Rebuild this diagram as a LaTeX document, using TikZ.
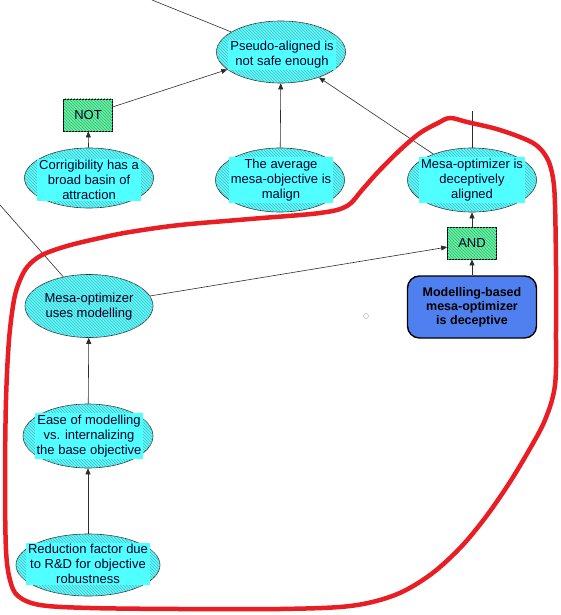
\documentclass[tikz,border=0pt]{standalone}
\usepackage{fontspec}
\setmainfont{Liberation Sans}
\usetikzlibrary{shapes.geometric,patterns,arrows.meta}
\definecolor{ecyan}{RGB}{90,252,252}
\definecolor{tcyan}{RGB}{80,255,255}
\definecolor{hatchc}{RGB}{80,185,195}
\definecolor{egreen}{RGB}{95,248,165}
\definecolor{hatchg}{RGB}{70,170,110}
\definecolor{dblue}{RGB}{80,128,240}
\definecolor{txt}{RGB}{0,0,40}
\definecolor{edgec}{RGB}{45,45,45}
\definecolor{redpen}{RGB}{232,30,36}
\definecolor{dotc}{RGB}{190,190,215}
\begin{document}
\begin{tikzpicture}[x=1pt,y=-1pt,
  ell/.style={ellipse, draw=edgec, line width=0.6pt, fill=ecyan, inner sep=0pt,
    postaction={pattern=north west lines, pattern color=hatchc}},
  tbox/.style={fill=tcyan, inner xsep=2pt, inner ysep=1.5pt, align=center,
    text=txt, font=\fontsize{13}{15}\selectfont},
  tplain/.style={inner sep=0pt, align=center, text=txt, font=\fontsize{13}{15}\selectfont},
  gate/.style={rectangle, draw=black, line width=0.7pt, fill=egreen,
    minimum width=49pt, minimum height=32pt, inner sep=0pt, text=txt,
    font=\fontsize{13}{15}\selectfont,
    postaction={pattern=north west lines, pattern color=hatchg}},
  leaf/.style={rectangle, rounded corners=12pt, draw=black, line width=1.4pt, fill=dblue,
    minimum width=129pt, minimum height=62pt, inner sep=0pt, align=center,
    font=\fontsize{12.5}{14}\selectfont\bfseries},
  conn/.style={draw=edgec, line width=0.6pt},
  arr/.style={conn, -{Triangle[length=6pt,width=5pt]}}
]
\useasboundingbox (0,0) rectangle (561,615);

% ellipses
\node[ell, minimum width=129pt, minimum height=62pt] (pa) at (281,52) {};
\node[ell, minimum width=129pt, minimum height=60pt] (cor) at (89,178) {};
\node[ell, minimum width=129pt, minimum height=64pt] (avg) at (280,180) {};
\node[ell, minimum width=129pt, minimum height=64pt] (mda) at (472,180) {};
\node[ell, minimum width=128pt, minimum height=63pt] (mum) at (89,306) {};
\node[ell, minimum width=130pt, minimum height=64pt] (ease) at (88,436) {};
\node[ell, minimum width=144pt, minimum height=62pt] (red) at (88,565) {};

% texts
\node[tbox] (tpa) at (282,55) {Pseudo-aligned is\\not safe enough};
\node[tbox] (tcor) at (89,180) {Corrigibility has a\\broad basin of\\attraction};
\node[tbox] (tavg) at (281,180) {The average\\mesa-objective is\\malign};
\node[tbox] (tmda) at (472,180) {Mesa-optimizer is\\deceptively\\aligned};
\node[tplain] (tmum) at (89,307) {Mesa-optimizer\\uses modelling};
\node[tbox] (tease) at (89,436) {Ease of modelling\\vs. internalizing\\the base objective};
\node[tbox] (tred) at (88,564) {Reduction factor due\\to R\&D for objective\\robustness};

% gates and leaf
\node[gate] (not) at (88,115) {NOT};
\node[gate] (and) at (472,243) {AND};
\node[leaf] (mbd) at (472,307) {Modelling-based\\mesa-optimizer\\is deceptive};

% free ends
\coordinate (ftop) at (152,0);
\coordinate (fleft) at (0,205);
\coordinate (fmda) at (472,111);

% connectors
\draw[conn] (ftop) -- (pa);
\draw[conn] (fleft) -- (mum);
\draw[conn] (fmda) -- (mda);
\draw[arr] (not) -- (pa);
\draw[arr] (cor) -- (not);
\draw[arr] (avg) -- (pa);
\draw[arr] (mda) -- (pa);
\draw[arr] (and) -- (mda);
\draw[arr] (mbd) -- (and);
\draw[arr] (mum) -- (and);
\draw[arr] (ease) -- (mum);
\draw[arr] (red) -- (ease);

% small circle
\node[circle, draw=dotc, line width=0.6pt, minimum size=5pt, inner sep=0pt] (dot) at (366,316) {};

% red freehand loop
\draw[redpen, line width=4.5pt, line cap=round, line join=round]
  plot[smooth cycle, tension=0.55] coordinates {
  (450,118) (467,122) (500,130) (533,143) (547,158) (553,178) (555,205)
  (556,267) (556,330) (555,385) (545,420) (528,452) (508,485) (485,518)
  (460,548) (430,575) (395,595) (350,606) (280,609) (180,609) (90,608)
  (40,605) (18,596) (10,580) (6,550) (5,480) (6,400) (9,340) (14,300)
  (20,280) (28,266) (42,255) (67,246) (100,238) (130,232) (180,225)
  (250,219) (320,213) (347,206) (362,190) (378,172) (400,150) (420,133)
  (438,123)};
\end{tikzpicture}
\end{document}
